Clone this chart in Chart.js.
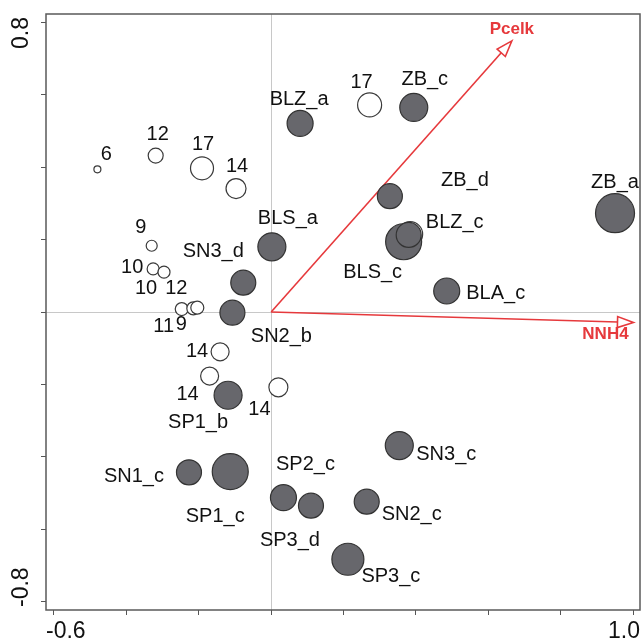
<!DOCTYPE html>
<html>
<head>
<meta charset="utf-8">
<script src="https://cdn.jsdelivr.net/npm/chart.js@4.4.1/dist/chart.umd.min.js"></script>
<style>
  html, body { margin: 0; padding: 0; background: #fff; }
  canvas { display: block; }
</style>
</head>
<body>
<canvas id="ordination" width="644" height="643"></canvas>
<script>
// samples (filled circles)
const sampleNames = ['BLZ_a', 'BLS_a', 'SN3_d', 'SN2_b', 'SP1_b', 'SN1_c', 'SP1_c', 'SP2_c', 'SP3_d',
  'ZB_c', 'ZB_d', 'ZB_a', 'BLS_c', 'BLZ_c', 'BLA_c', 'SN3_c', 'SN2_c', 'SP3_c'];
const sampleX = [0.080, 0.002, -0.077, -0.107, -0.119, -0.227, -0.113, 0.034, 0.110,
  0.394, 0.328, 0.950, 0.366, 0.380, 0.485, 0.354, 0.264, 0.212];
const sampleY = [0.521, 0.180, 0.081, -0.002, -0.230, -0.443, -0.441, -0.513, -0.535,
  0.565, 0.320, 0.273, 0.194, 0.213, 0.058, -0.369, -0.524, -0.683];
const sampleWeight = [13, 14, 12.5, 12.5, 14, 12.5, 18, 13, 12.5, 14, 12.5, 19.5, 18, 12.5, 13, 14, 12.5, 16];

// species (open circles), labelled with counts
const speciesNames = ['6', '12', '17', '14', '9', '10', '10', '11', '12', '9', '14', '14', '14', '17', ''];
const speciesX = [-0.480, -0.319, -0.191, -0.097, -0.330, -0.326, -0.296, -0.247, -0.215, -0.204,
  -0.141, -0.170, 0.020, 0.272, 0.384];
const speciesY = [0.394, 0.432, 0.397, 0.341, 0.183, 0.119, 0.110, 0.008, 0.010, 0.012,
  -0.110, -0.177, -0.208, 0.572, 0.215];
const speciesWeight = [3.5, 7.5, 11.5, 10, 5.5, 6, 6, 6.5, 6.5, 6.5, 9, 9, 9.5, 12, 12.5];

// environmental vectors
const envNames = ['Pcelk', 'NNH4'];
const envX = [0.665, 1.001];
const envY = [0.749, -0.029];

const xTicks = [-0.6, -0.4, -0.2, 0, 0.2, 0.4, 0.6, 0.8, 1.0];
const yTicks = [-0.8, -0.6, -0.4, -0.2, 0, 0.2, 0.4, 0.6, 0.8];
const xTickLabels = ['-0.6', '1.0'];
const yTickLabels = ['-0.8', '0.8'];

// label placement (pixels from the point centre)
const sampleLabelOffset = [[-1, -24], [16, -28], [-30, -31], [49, 24], [-30, 27], [-55, 4], [-15, 45],
  [22, -33], [-21, 35], [11, -28], [75, -16], [0, -31], [-31, 31], [46, -12], [49, 2], [47, 9],
  [45, 13], [43, 17]];
const speciesLabelOffset = [[9, -15], [2, -21], [1, -24], [1, -22], [-11, -18], [-21, -1], [-18, 16],
  [-18, 17], [-17, -20], [-16, 17], [-23, 0], [-22, 18], [-19, 22], [-8, -22], [0, 0]];
const envLabelOffset = [[0, -12], [-28, 12]];

const red = 'rgb(230,57,60)';
const labelFont = '20px "Liberation Sans", Arial, sans-serif';

const biplot = {
  id: 'biplot',
  beforeDatasetsDraw(chart) {
    const { ctx, scales: { x, y } } = chart;
    const x0 = x.getPixelForValue(0), y0 = y.getPixelForValue(0);
    ctx.save();
    ctx.strokeStyle = red;
    ctx.lineWidth = 1.6;
    envNames.forEach((name, i) => {
      const x1 = x.getPixelForValue(envX[i]), y1 = y.getPixelForValue(envY[i]);
      const a = Math.atan2(y1 - y0, x1 - x0);
      const len = 16, half = 5.5;
      const bx = x1 - len * Math.cos(a), by = y1 - len * Math.sin(a);
      ctx.beginPath();
      ctx.moveTo(x0, y0);
      ctx.lineTo(bx, by);
      ctx.stroke();
      ctx.beginPath();
      ctx.moveTo(x1, y1);
      ctx.lineTo(bx + half * Math.sin(a), by - half * Math.cos(a));
      ctx.lineTo(bx - half * Math.sin(a), by + half * Math.cos(a));
      ctx.closePath();
      ctx.fillStyle = '#fff';
      ctx.fill();
      ctx.stroke();
    });
    ctx.restore();
  },
  afterDatasetsDraw(chart) {
    const { ctx, chartArea: area, scales: { x, y } } = chart;
    ctx.save();
    ctx.textAlign = 'center';
    ctx.textBaseline = 'middle';
    ctx.fillStyle = '#111';
    ctx.font = labelFont;
    const sets = [[sampleNames, sampleLabelOffset], [speciesNames, speciesLabelOffset]];
    sets.forEach(([names, offs], d) => {
      chart.getDatasetMeta(d).data.forEach((pt, i) => {
        if (names[i]) ctx.fillText(names[i], pt.x + offs[i][0], pt.y + offs[i][1]);
      });
    });

    // vector labels
    ctx.fillStyle = red;
    ctx.font = 'bold 17px "Liberation Sans", Arial, sans-serif';
    envNames.forEach((name, i) => {
      ctx.fillText(name, x.getPixelForValue(envX[i]) + envLabelOffset[i][0],
        y.getPixelForValue(envY[i]) + envLabelOffset[i][1]);
    });

    // frame
    ctx.strokeStyle = '#5a5a5a';
    ctx.lineWidth = 1.5;
    ctx.strokeRect(area.left, area.top, area.right - area.left, area.bottom - area.top);

    // end tick labels
    ctx.fillStyle = '#111';
    ctx.font = '23px "Liberation Sans", Arial, sans-serif';
    ctx.textAlign = 'left';
    ctx.fillText(xTickLabels[0], area.left, 632);
    ctx.textAlign = 'right';
    ctx.fillText(xTickLabels[1], area.right, 632);

    ctx.translate(22, area.top + 3);
    ctx.rotate(-Math.PI / 2);
    ctx.textAlign = 'right';
    ctx.fillText(yTickLabels[1], 0, 0);
    ctx.rotate(Math.PI / 2);
    ctx.translate(0, area.bottom - area.top - 6);
    ctx.rotate(-Math.PI / 2);
    ctx.textAlign = 'left';
    ctx.fillText(yTickLabels[0], 0, 0);
    ctx.restore();
  }
};

const gridOpts = {
  color: c => (c.tick && c.tick.value === 0 ? '#c8c8c8' : 'rgba(0,0,0,0)'),
  lineWidth: 1,
  tickColor: '#555',
  tickLength: 5
};

new Chart(document.getElementById('ordination').getContext('2d'), {
  type: 'bubble',
  data: {
    datasets: [{
      label: 'samples',
      data: sampleX.map((v, i) => ({ x: v, y: sampleY[i], r: sampleWeight[i] })),
      backgroundColor: '#67676c',
      borderColor: '#333',
      borderWidth: 1.2,
      order: 1
    }, {
      label: 'species',
      data: speciesX.map((v, i) => ({ x: v, y: speciesY[i], r: speciesWeight[i] })),
      backgroundColor: '#fff',
      borderColor: '#3a3a3a',
      borderWidth: 1.2,
      order: 2
    }]
  },
  options: {
    responsive: false,
    animation: false,
    events: [],
    layout: { autoPadding: false, padding: { top: 14, right: 4, left: 0, bottom: 0 } },
    plugins: { legend: { display: false }, tooltip: { enabled: false } },
    scales: {
      x: {
        type: 'linear', min: -0.622, max: 1.019,
        afterBuildTicks: s => { s.ticks = xTicks.map(v => ({ value: v })); },
        afterFit: s => { s.height = 33; },
        ticks: { display: false },
        grid: gridOpts,
        border: { display: false }
      },
      y: {
        type: 'linear', min: -0.8232, max: 0.8232,
        afterBuildTicks: s => { s.ticks = yTicks.map(v => ({ value: v })); },
        afterFit: s => { s.width = 46; },
        ticks: { display: false },
        grid: gridOpts,
        border: { display: false }
      }
    }
  },
  plugins: [biplot]
});
</script>
</body>
</html>
